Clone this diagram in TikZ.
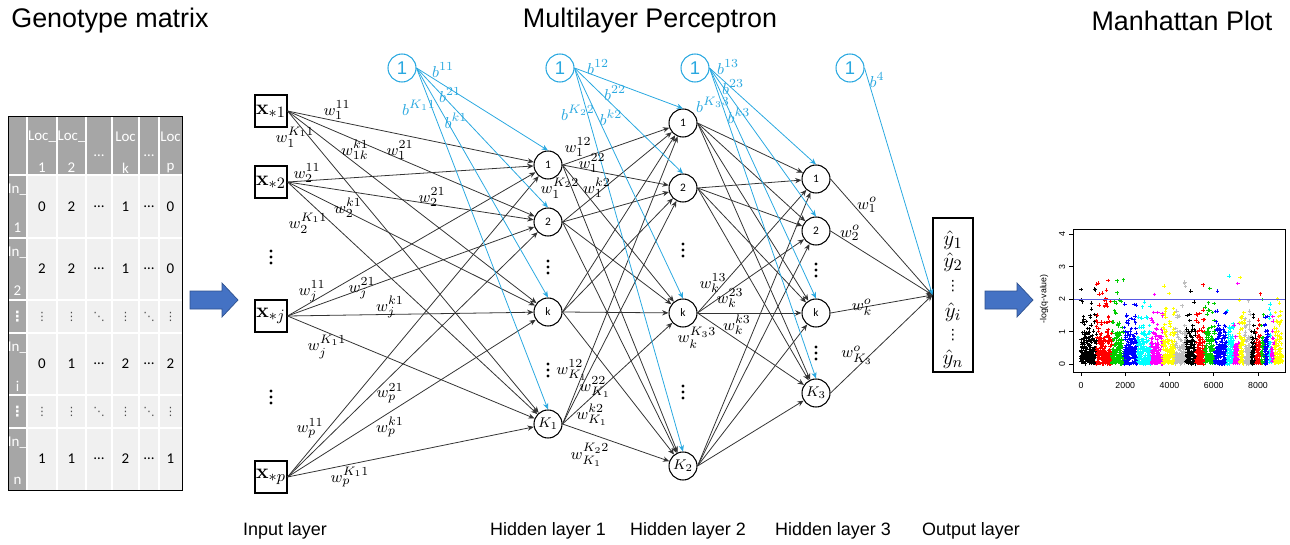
\documentclass[tikz,border=0pt]{standalone}
\usepackage{amsmath}
\usepackage[no-math]{fontspec}
\setmainfont{Liberation Sans}
\newfontfamily\calib{Carlito}
\newfontfamily\dejavu{DejaVu Sans}
\usetikzlibrary{arrows.meta, positioning}

\definecolor{biasblue}{RGB}{41,168,224}
\definecolor{hdrgray}{RGB}{166,166,166}
\definecolor{cellgray}{RGB}{240,240,240}
\definecolor{arrowblue}{RGB}{68,114,196}
\definecolor{arrowedge}{RGB}{47,82,143}
\definecolor{mhgreen}{RGB}{0,205,0}
\definecolor{mhgray}{RGB}{190,190,190}
\definecolor{mhyellow}{RGB}{255,255,0}
\definecolor{mhcyan}{RGB}{0,255,255}
\definecolor{mhmagenta}{RGB}{255,0,255}
\definecolor{mhred}{RGB}{255,0,0}
\definecolor{mhblue}{RGB}{0,0,255}
\definecolor{mhline}{RGB}{90,90,225}

\tikzset{
  neuron/.style={draw, circle, line width=0.6pt, minimum size=5.6mm, inner sep=0pt, fill=white, font=\calib\fontsize{6.5}{7}\selectfont},
  inbox/.style={draw, line width=0.6pt, minimum size=6.4mm, inner sep=0pt, font=\fontsize{12.5}{14}\selectfont},
  biasnode/.style={draw=biasblue, text=biasblue, circle, line width=0.6pt, minimum size=5.6mm, inner sep=0pt, font=\fontsize{10.5}{12}\selectfont},
  conn/.style={->, draw=black!80, line width=0.45pt},
  biasconn/.style={->, draw=biasblue, line width=0.45pt},
  wlab/.style={inner sep=0pt, font=\fontsize{9.5}{10}\selectfont},
  blab/.style={inner sep=0pt, text=biasblue, font=\fontsize{9.5}{10}\selectfont},
  ylab/.style={inner sep=0pt, font=\fontsize{12.5}{14}\selectfont},
  layerlab/.style={inner sep=0pt, font=\fontsize{10.2}{12}\selectfont},
  titletext/.style={inner sep=0pt, font=\fontsize{15.3}{18}\selectfont},
  cell/.style={inner sep=0pt, font=\calib\fontsize{8.5}{9}\selectfont},
  dcell/.style={inner sep=0pt, text=black!70, font=\dejavu\fontsize{6.5}{7}\selectfont},
  hcell/.style={cell, text=white},
  axlab/.style={inner sep=0pt, font=\fontsize{5}{6}\selectfont},
}

\begin{document}
\begin{tikzpicture}[x=0.2mm,y=-0.2mm,>={Stealth[length=3.6pt,width=3pt]}]
    \useasboundingbox (0,0) rectangle (1290,545);

    \node[titletext] (tgeno) at (110,21) {Genotype matrix};
    \node[titletext] (tmlp) at (650,21) {Multilayer Perceptron};
    \node[titletext] (tman) at (1182,21) {Manhattan Plot};

    % genotype matrix
    \fill[cellgray] (8,116) rectangle (182,490);
    \fill[hdrgray] (8,116) rectangle (182,175);
    \fill[hdrgray] (8,116) rectangle (27,490);
    \foreach \x in {27,57,86,112,139,159} \draw[white, line width=0.35mm] (\x,116) -- (\x,490);
    \foreach \y in {175,238,300,333,395,428} \draw[white, line width=0.35mm] (8,\y) -- (182,\y);
    \draw[line width=0.5pt] (8,116) rectangle (182,490);
    \foreach \x/\a/\b [count=\i] in {42/Loc\_/1, 71.5/Loc\_/2, 125.5/Loc/k, 170.5/Loc/p} {
        \node[hcell] (loc\i a) at (\x,137) {\a};
        \node[hcell] (loc\i b) at (\x,168) {\b};
    }
    \node[hcell] (locd1) at (99,156) {\ldots};
    \node[hcell] (locd2) at (149,156) {\ldots};
    \foreach \y/\t [count=\i] in {175/1,238/2,333/i,428/n} {
        \node[hcell] (ind\i a) at (17.5,\y+15) {In\_};
        \node[hcell] (ind\i b) at (17.5,\y+53) {\t};
    }
    \node[dcell, text=white, font=\dejavu\bfseries\fontsize{8}{8}\selectfont] (indd1) at (17.5,316.5) {⋮};
    \node[dcell, text=white, font=\dejavu\bfseries\fontsize{8}{8}\selectfont] (indd2) at (17.5,411.5) {⋮};
    \foreach \x/\v [count=\c] in {42/0,71.5/2,99/\ldots,125.5/1,149/\ldots,170.5/0} \node[cell] (ra\c) at (\x,206.5) {\v};
    \foreach \x/\v [count=\c] in {42/2,71.5/2,99/\ldots,125.5/1,149/\ldots,170.5/0} \node[cell] (rb\c) at (\x,269) {\v};
    \foreach \x/\v [count=\c] in {42/⋮,71.5/⋮,99/⋱,125.5/⋮,149/⋱,170.5/⋮} \node[dcell] (rc\c) at (\x,316.5) {\v};
    \foreach \x/\v [count=\c] in {42/0,71.5/1,99/\ldots,125.5/2,149/\ldots,170.5/2} \node[cell] (rd\c) at (\x,364) {\v};
    \foreach \x/\v [count=\c] in {42/⋮,71.5/⋮,99/⋱,125.5/⋮,149/⋱,170.5/⋮} \node[dcell] (re\c) at (\x,411.5) {\v};
    \foreach \x/\v [count=\c] in {42/1,71.5/1,99/\ldots,125.5/2,149/\ldots,170.5/1} \node[cell] (rf\c) at (\x,459) {\v};

    % block arrows
    \foreach \s in {0,795}
        \filldraw[fill=arrowblue, draw=arrowedge, line width=0.4pt, xshift=\s*0.2mm] (190,291) -- (222,291) -- (222,283) -- (238,300) -- (222,317) -- (222,309) -- (190,309) -- cycle;

    % network
    \node[inbox] (x1) at (271,111) {$\mathbf{x}_{*1}$};
    \node[inbox] (x2) at (271,182) {$\mathbf{x}_{*2}$};
    \node[inbox] (xj) at (271,316) {$\mathbf{x}_{*j}$};
    \node[inbox] (xp) at (271,477) {$\mathbf{x}_{*p}$};

    \node[neuron] (h11) at (548,165) {1};
    \node[neuron] (h12) at (548,222) {2};
    \node[neuron] (h1k) at (548,312) {k};
    \node[neuron] (h1K) at (548,424) {\fontsize{8.5}{9}\selectfont$K_1$};
    \node[neuron] (h21) at (683,123) {1};
    \node[neuron] (h22) at (683,188) {2};
    \node[neuron] (h2k) at (683,313) {k};
    \node[neuron] (h2K) at (683,466) {\fontsize{8.5}{9}\selectfont$K_2$};
    \node[neuron] (h31) at (816,179) {1};
    \node[neuron] (h32) at (816,231) {2};
    \node[neuron] (h3k) at (816,313) {k};
    \node[neuron] (h3K) at (816,393) {\fontsize{8.5}{9}\selectfont$K_3$};

    \node[draw, line width=0.6pt, minimum width=8mm, minimum height=30.8mm, inner sep=0pt] (out) at (953,295) {};
    \foreach \y/\t [count=\i] in {240/{\hat{y}_1}, 262/{\hat{y}_2}, 312/{\hat{y}_i}, 359/{\hat{y}_n}}
        \node[ylab] (yh\i) at (953,\y) {$\t$};
    \node[inner sep=0pt, font=\dejavu\fontsize{8}{8}\selectfont] (yd1) at (953,286) {⋮};
    \node[inner sep=0pt, font=\dejavu\fontsize{8}{8}\selectfont] (yd2) at (953,335) {⋮};

    \node[biasnode] (bb1) at (402,68) {1};
    \node[biasnode] (bb2) at (560,68) {1};
    \node[biasnode] (bb3) at (695,68) {1};
    \node[biasnode] (bb4) at (850,68) {1};

    \foreach \x/\y in {271/257, 271/397, 548/267, 548/370, 683/250, 683/392, 816/270, 816/353}
        \fill (\x,\y) circle[radius=0.32mm] (\x,\y-6) circle[radius=0.32mm] (\x,\y+6) circle[radius=0.32mm];

    \foreach \s in {x1,x2,xj,xp}
        \foreach \t in {h11,h12,h1k,h1K} \draw[conn] (\s.east) -- (\t);
    \foreach \s in {h11,h12,h1k,h1K}
        \foreach \t in {h21,h22,h2k,h2K} \draw[conn] (\s.east) -- (\t);
    \foreach \s in {h21,h22,h2k,h2K}
        \foreach \t in {h31,h32,h3k,h3K} \draw[conn] (\s.east) -- (\t);
    \foreach \s in {h31,h32,h3k,h3K} \draw[conn] (\s.east) -- (out.west);

    \foreach \t in {h11,h12,h1k,h1K} \draw[biasconn] (bb1.east) -- (\t.north);
    \foreach \t in {h21,h22,h2k,h2K} \draw[biasconn] (bb2.east) -- (\t.north);
    \foreach \t in {h31,h32,h3k,h3K} \draw[biasconn] (bb3.east) -- (\t.north);
    \draw[biasconn] (bb4.east) -- (out.west);

    \foreach \x/\y/\t [count=\i] in {337/110/{w_1^{11}}, 295/137/{w_1^{K_1 1}}, 355/150/{w_{1k}^{k1}}, 400/150/{w_1^{21}},
        307/173/{w_2^{11}}, 432/197/{w_2^{21}}, 348/208/{w_2^{k1}}, 308/223/{w_2^{K_1 1}},
        312/291/{w_j^{11}}, 362/288/{w_j^{21}}, 390/307/{w_j^{k1}}, 327/347/{w_j^{K_1 1}},
        390/393/{w_p^{21}}, 310/428/{w_p^{11}}, 390/427/{w_p^{k1}}, 350/477/{w_p^{K_1 1}},
        578/147/{w_1^{12}}, 592/163/{w_1^{22}}, 560/188/{w_1^{K_2 2}}, 597/188/{w_1^{k2}},
        572/370/{w_{K_1}^{12}}, 595/387/{w_{K_1}^{22}}, 592/415/{w_{K_1}^{k2}}, 590/455/{w_{K_1}^{K_2 2}},
        713/283/{w_k^{13}}, 730/298/{w_k^{23}}, 737/325/{w_k^{k3}}, 697/338/{w_k^{K_3 3}},
        867/205/{w_1^o}, 850/233/{w_2^o}, 862/307/{w_k^o}, 857/355/{w_{K_3}^o}}
        \node[wlab] (w\i) at (\x,\y) {$\t$};

    \foreach \x/\y/\t [count=\i] in {443/70/{b^{11}}, 450/95/{b^{21}}, 419/108/{b^{K_1 1}}, 456/121/{b^{k1}},
        598/67/{b^{12}}, 615/93/{b^{22}}, 578/113/{b^{K_2 2}}, 611/118/{b^{k2}},
        728/67/{b^{13}}, 733/87/{b^{23}}, 713/105/{b^{K_3 3}}, 739/116/{b^{k3}}, 877/80/{b^4}}
        \node[blab] (b\i) at (\x,\y) {$\t$};

    \node[layerlab] (linput) at (285,531) {Input layer};
    \node[layerlab] (lhid1) at (548,531) {Hidden layer 1};
    \node[layerlab] (lhid2) at (688,531) {Hidden layer 2};
    \node[layerlab] (lhid3) at (833,531) {Hidden layer 3};
    \node[layerlab] (lout) at (971,531) {Output layer};

    % manhattan plot
    \pgfmathsetseed{11}
    \foreach \a/\b/\c in {0/700/black, 700/1400/mhred, 1400/1950/mhgreen, 1950/2550/mhblue, 2550/3150/mhcyan,
        3150/3700/mhmagenta, 3700/4250/mhyellow, 4250/4750/mhgray, 4750/5200/black, 5200/5600/mhred,
        5600/6050/mhgreen, 6050/6600/mhblue, 6600/6900/mhcyan, 6900/7150/mhmagenta, 7150/7400/mhyellow,
        7400/7700/mhgray, 7700/7900/black, 7900/8150/mhred, 8150/8300/mhgreen, 8300/8500/mhblue,
        8500/8600/mhcyan, 8600/8750/mhmagenta, 8750/9100/mhyellow} {
        \pgfmathtruncatemacro{\n}{(\b-\a)*0.25}
        \foreach \i in {1,...,\n} {
            \pgfmathsetmacro{\px}{1081+(\a+rnd*(\b-\a))*0.02213}
            \pgfmathsetmacro{\py}{364+0.5*ln(rnd*0.996+0.004)*32.4}
            \draw[\c, line width=0.45pt] (\px-1.8,\py) -- (\px+1.8,\py) (\px,\py-1.8) -- (\px,\py+1.8);
        }
    }
    \draw[mhline, line width=0.5pt] (1073,299.2) -- (1285,299.2);
    \draw[line width=0.4pt] (1073,229) rectangle (1285,372);
    \foreach \v in {0,...,4} {
        \draw[line width=0.4pt] (1073,364-32.4*\v) -- ++(-4,0);
        \node[axlab, rotate=90] (yt\v) at (1062,364-32.4*\v) {\v};
    }
    \foreach \v in {0,2000,4000,6000,8000} {
        \draw[line width=0.4pt] (1081+\v*0.02213,372) -- ++(0,4);
        \node[axlab] (xt\v) at (1081+\v*0.02213,385) {\v};
    }
    \node[axlab, rotate=90] (ylab) at (1044,299) {-log(q-value)};
\end{tikzpicture}
\end{document}
